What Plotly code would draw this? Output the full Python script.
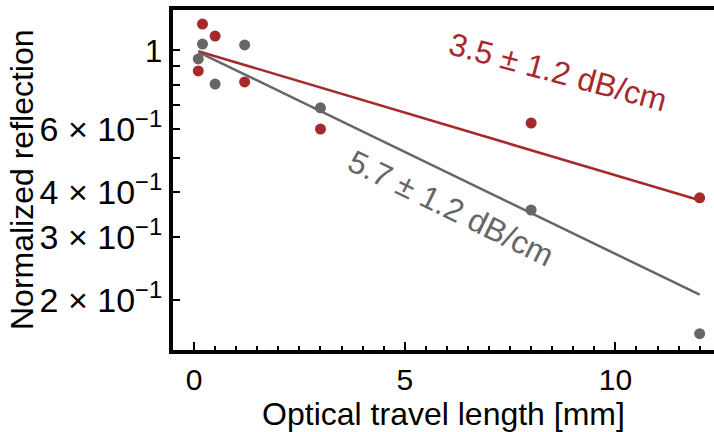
import math
import plotly.graph_objects as go

# ---- data ----
x_red = [0.1, 0.2, 0.5, 1.2, 3.0, 8.0, 12.0]
y_red = [0.874, 1.182, 1.094, 0.814, 0.601, 0.625, 0.386]

x_gray = [0.1, 0.2, 0.5, 1.2, 3.0, 8.0, 12.0]
y_gray = [0.944, 1.039, 0.803, 1.033, 0.689, 0.357, 0.161]

fit_x = [0.1, 12.0]
fit_red = [0.992, 0.380]
fit_gray = [0.987, 0.207]

label_red = "3.5 ± 1.2 dB/cm"
label_gray = "5.7 ± 1.2 dB/cm"

x_title = "Optical travel length [mm]"
y_title = "Normalized reflection"

y_tickvals = [0.2, 0.3, 0.4, 0.6, 1.0]
y_ticktext = ["2 × 10<sup>−1</sup>", "3 × 10<sup>−1</sup>", "4 × 10<sup>−1</sup>",
              "6 × 10<sup>−1</sup>", "<span style='font-size:31px'>1</span>"]
y_minor = [0.5, 0.7, 0.8, 0.9]
x_tickvals = [0, 5, 10]

RED = "#a6292b"
GRAY = "#666666"
FONT = "Liberation Sans, Arial, sans-serif"

PLOT_W = 714 - 173

fig = go.Figure()
fig.add_trace(go.Scatter(x=fit_x, y=fit_red, mode="lines",
                         line=dict(color=RED, width=2.5), showlegend=False))
fig.add_trace(go.Scatter(x=fit_x, y=fit_gray, mode="lines",
                         line=dict(color=GRAY, width=2.5), showlegend=False))
fig.add_trace(go.Scatter(x=x_red, y=y_red, mode="markers",
                         marker=dict(color=RED, size=11), showlegend=False))
fig.add_trace(go.Scatter(x=x_gray, y=y_gray, mode="markers",
                         marker=dict(color=GRAY, size=11), showlegend=False))

# annotation positions on a log axis are given in log10 units
fig.add_annotation(x=8.63, y=math.log10(0.868), text=label_red, showarrow=False,
                   textangle=15, font=dict(size=32, color=RED, family=FONT),
                   xanchor="center", yanchor="middle")
fig.add_annotation(x=6.09, y=math.log10(0.3616), text=label_gray, showarrow=False,
                   textangle=26, font=dict(size=32, color=GRAY, family=FONT),
                   xanchor="center", yanchor="middle")

# y-axis title placed as a rotated annotation for exact placement
fig.add_annotation(xref="paper", yref="paper", x=(22 - 173) / PLOT_W, y=0.5,
                   text=y_title, showarrow=False, textangle=-90,
                   font=dict(size=32, color="black", family=FONT),
                   xanchor="center", yanchor="middle")

# longer major tick at 1 on the y axis (log10(1) = 0)
fig.add_shape(type="line", xref="paper", yref="y", x0=0, x1=10 / PLOT_W, y0=0, y1=0,
              line=dict(color="black", width=2))

fig.update_layout(
    width=714, height=432,
    margin=dict(l=173, r=0, t=10, b=82),
    paper_bgcolor="white", plot_bgcolor="white",
    font=dict(family=FONT, size=30, color="black"),
    xaxis=dict(
        range=[-0.5, 12.34], showgrid=False, zeroline=False,
        showline=True, linewidth=4, linecolor="black", mirror=True,
        ticks="inside", ticklen=8, tickwidth=2, tickcolor="black",
        tickvals=x_tickvals, ticktext=[str(v) for v in x_tickvals],
        tickfont=dict(size=30),
        minor=dict(ticks="inside", ticklen=4, tickwidth=2, tickcolor="black",
                   dtick=0.5, tick0=0, showgrid=False),
        title=dict(text=x_title, font=dict(size=32), standoff=10),
    ),
    yaxis=dict(
        type="log", range=[-0.8387, 0.1118], showgrid=False, zeroline=False,
        showline=True, linewidth=4, linecolor="black",
        ticks="inside", ticklen=7, tickwidth=2, tickcolor="black",
        tickvals=y_tickvals, ticktext=y_ticktext, tickfont=dict(size=34),
        minor=dict(ticks="inside", ticklen=7, tickwidth=2, tickcolor="black",
                   tickvals=y_minor, showgrid=False),
    ),
)

fig.write_html("out.html")
